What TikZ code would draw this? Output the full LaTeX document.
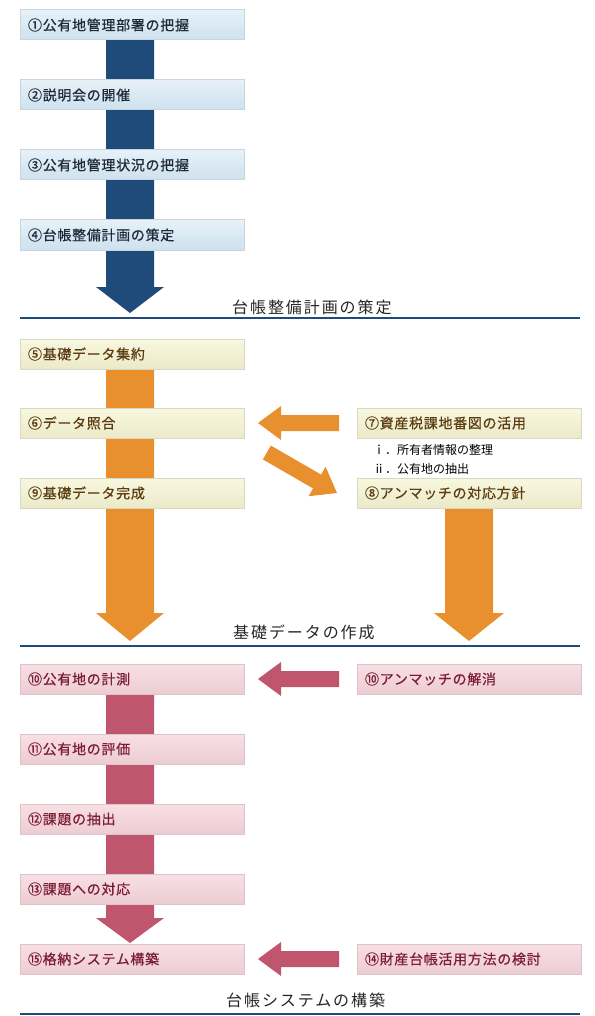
\documentclass[tikz,border=0pt]{standalone}
\usepackage{fontspec}
\usetikzlibrary{calc}
\newfontfamily\jp{Noto Sans CJK JP}
\newfontfamily\jpbox[FakeBold=0.6,LetterSpace=5]{Noto Sans CJK JP}
\newfontfamily\jpttl[LetterSpace=12]{Noto Sans CJK JP}
\definecolor{bluearr}{HTML}{1F4B7A}
\definecolor{bluetop}{HTML}{E7F1F8}
\definecolor{bluebot}{HTML}{CDE1EE}
\definecolor{blueline}{HTML}{C9D5DD}
\definecolor{bluetxt}{HTML}{1E2A3A}
\definecolor{orgarr}{HTML}{E8902E}
\definecolor{yeltop}{HTML}{F8F8E0}
\definecolor{yelbot}{HTML}{EBE9C8}
\definecolor{yelline}{HTML}{D9D8C2}
\definecolor{yeltxt}{HTML}{5C3D12}
\definecolor{pnktop}{HTML}{F8E0E5}
\definecolor{pnkbot}{HTML}{ECCCD3}
\definecolor{pnkline}{HTML}{DDC4C9}
\definecolor{pnktxt}{HTML}{7D1C35}
\definecolor{pnkarr}{HTML}{C0566E}
\definecolor{rulecol}{HTML}{1F4B7A}
\pgfdeclarelayer{arrows}
\pgfsetlayers{arrows,main}
\tikzset{
  stepbox/.style={rectangle, anchor=north west, line width=1pt, text width=208pt,
    inner xsep=8pt, inner ysep=0pt, minimum height=30pt, align=left, outer sep=0pt,
    font=\jpbox\fontsize{14}{16}\selectfont},
  bluebox/.style={stepbox, top color=bluetop, bottom color=bluebot, draw=blueline, text=bluetxt},
  yelbox/.style={stepbox, top color=yeltop, bottom color=yelbot, draw=yelline, text=yeltxt},
  pnkbox/.style={stepbox, top color=pnktop, bottom color=pnkbot, draw=pnkline, text=pnktxt},
  ttl/.style={anchor=west, inner sep=0pt, font=\jpttl\fontsize{16}{18}\selectfont, text=black!85},
  subtxt/.style={anchor=west, inner sep=0pt, font=\jp\fontsize{12}{14}\selectfont, text=black},
  rule/.style={draw=rulecol, line width=1.3pt},
}
\newcommand{\leftblock}{(0,0) -- (23,-17) -- (23,-8) -- (81,-8) -- (81,8) -- (23,8) -- (23,17) -- cycle}
\begin{document}
\begin{tikzpicture}[x=1pt,y=-1pt]
\useasboundingbox (0,0) rectangle (594,1016);

% ---------- section 1 ----------
\node[bluebox] (b1) at (20,10) {①公有地管理部署の把握};
\node[bluebox] (b2) at (20,80) {②説明会の開催};
\node[bluebox] (b3) at (20,150) {③公有地管理状況の把握};
\node[bluebox] (b4) at (20,220) {④台帳整備計画の策定};
\node[ttl] (t1) at (232,307) {台帳整備計画の策定};
\coordinate (r1a) at (20,318); \coordinate (r1b) at (580,318);
\draw[rule] (r1a) -- (r1b);

% ---------- section 2 ----------
\node[yelbox] (b5) at (20,339) {⑤基礎データ集約};
\node[yelbox] (b6) at (20,408) {⑥データ照合};
\node[yelbox] (b9) at (20,478) {⑨基礎データ完成};
\node[yelbox] (b7) at (357,408) {⑦資産税課地番図の活用};
\node[yelbox] (b8) at (357,478) {⑧アンマッチの対応方針};
\node[subtxt] (s1) at (373,450) {ｉ．所有者情報の整理};
\node[subtxt] (s2) at (373,469) {ⅱ．公有地の抽出};
\node[ttl] (t2) at (233,632) {基礎データの作成};
\coordinate (r2a) at (20,646); \coordinate (r2b) at (580,646);
\draw[rule] (r2a) -- (r2b);

% ---------- section 3 ----------
\node[pnkbox] (b10) at (20,664) {⑩公有地の計測};
\node[pnkbox] (b11) at (20,734) {⑪公有地の評価};
\node[pnkbox] (b12) at (20,804) {⑫課題の抽出};
\node[pnkbox] (b13) at (20,874) {⑬課題への対応};
\node[pnkbox] (b15) at (20,944) {⑮格納システム構築};
\node[pnkbox] (b10r) at (357,664) {⑩アンマッチの解消};
\node[pnkbox] (b14) at (357,944) {⑭財産台帳活用方法の検討};
\node[ttl] (t3) at (226,1000) {台帳システムの構築};
\coordinate (r3a) at (20,1014); \coordinate (r3b) at (580,1014);
\draw[rule] (r3a) -- (r3b);

% ---------- block arrows (behind the boxes) ----------
\begin{pgfonlayer}{arrows}
\fill[bluearr] ($(b1.south)+(-26,0)$) -- ($(b1.south)+(22,0)$) -- ($(b4.south)+(22,37)$)
  -- ($(b4.south)+(32,37)$) -- ($(b4.south)+(-2,63)$) -- ($(b4.south)+(-36,37)$)
  -- ($(b4.south)+(-26,37)$) -- cycle;
\fill[orgarr] ($(b5.south)+(-26,0)$) -- ($(b5.south)+(22,0)$) -- ($(b9.south)+(22,105)$)
  -- ($(b9.south)+(32,105)$) -- ($(b9.south)+(-2,133)$) -- ($(b9.south)+(-36,105)$)
  -- ($(b9.south)+(-26,105)$) -- cycle;
\fill[orgarr] ($(b8.south)+(-24,0)$) -- ($(b8.south)+(24,0)$) -- ($(b8.south)+(24,105)$)
  -- ($(b8.south)+(35,105)$) -- ($(b8.south)+(0,133)$) -- ($(b8.south)+(-35,105)$)
  -- ($(b8.south)+(-24,105)$) -- cycle;
\fill[orgarr, shift={($(b6.east)+(14,0)$)}] \leftblock;
\fill[orgarr, shift={($(b8.west)+(-20,0)$)}, rotate=150] \leftblock;
\fill[pnkarr] ($(b10.south)+(-26,0)$) -- ($(b10.south)+(22,0)$) -- ($(b13.south)+(22,14)$)
  -- ($(b13.south)+(32,14)$) -- ($(b13.south)+(-2,39)$) -- ($(b13.south)+(-36,14)$)
  -- ($(b13.south)+(-26,14)$) -- cycle;
\fill[pnkarr, shift={($(b10.east)+(14,0)$)}] \leftblock;
\fill[pnkarr, shift={($(b15.east)+(14,0)$)}] \leftblock;
\end{pgfonlayer}
\end{tikzpicture}
\end{document}
